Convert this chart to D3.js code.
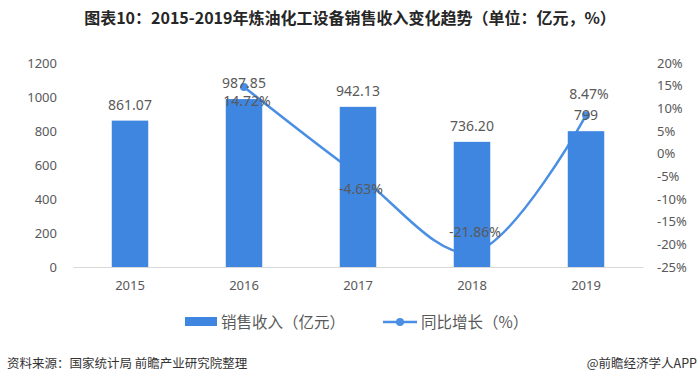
<!DOCTYPE html>
<html>
<head>
<meta charset="utf-8">
<script src="https://cdn.jsdelivr.net/npm/d3@7"></script>
<style>
  body { margin: 0; background: #fff; }
  text { font-family: "Noto Sans", "Noto Sans CJK SC", sans-serif; }
</style>
</head>
<body>
<div id="chart"></div>
<script>
// Data
const years = ["2015", "2016", "2017", "2018", "2019"];
const sales = [861.07, 987.85, 942.13, 736.20, 799];
const salesLabels = ["861.07", "987.85", "942.13", "736.20", "799"];
const growth = [null, 14.72, -4.63, -21.86, 8.47];
const leftTicks = [0, 200, 400, 600, 800, 1000, 1200];
const rightTicks = [-25, -20, -15, -10, -5, 0, 5, 10, 15, 20];

const width = 700, height = 384;
const barColor = "#3f86e0";
const lineColor = "#4a8fe3";
const textColor = "#595959";

const svg = d3.select("#chart").append("svg")
  .attr("width", width)
  .attr("height", height);

// Scales
const x = d3.scaleBand()
  .domain(years)
  .range([73, 643])
  .paddingInner(0.68)
  .paddingOuter(0.34);

const yLeft = d3.scaleLinear().domain([0, 1200]).range([267, 63]);
const yRight = d3.scaleLinear().domain([-25, 20]).range([267, 63]);

// Title
svg.append("text")
  .attr("x", 350)
  .attr("y", 24)
  .attr("text-anchor", "middle")
  .style("font-family", "'Noto Sans CJK SC', sans-serif")
  .style("font-weight", "bold")
  .style("font-size", "16px")
  .style("fill", "#262626")
  .text("图表10：2015-2019年炼油化工设备销售收入变化趋势（单位：亿元，%）");

// Left axis
const leftAxis = svg.append("g")
  .attr("transform", "translate(57,0)")
  .call(d3.axisLeft(yLeft).tickValues(leftTicks).tickSize(0).tickPadding(0)
    .tickFormat(d3.format("d")));
leftAxis.select(".domain").remove();
leftAxis.selectAll("text")
  .style("font-size", "13px")
  .style("fill", textColor);

// Right axis
const rightAxis = svg.append("g")
  .attr("transform", "translate(657,0)")
  .call(d3.axisRight(yRight).tickValues(rightTicks).tickSize(0).tickPadding(0)
    .tickFormat(d => d + "%"));
rightAxis.select(".domain").remove();
rightAxis.selectAll("text")
  .style("font-size", "13px")
  .style("fill", textColor);

// Bottom axis
const bottomAxis = svg.append("g")
  .attr("transform", "translate(0,267)")
  .call(d3.axisBottom(x).tickSize(0).tickPadding(14));
bottomAxis.select(".domain").attr("stroke", "#d9d9d9");
bottomAxis.selectAll("text")
  .style("font-size", "13px")
  .style("fill", textColor);

// Growth line (sits behind the bars, as in the source chart)
const linePts = growth.map((g, i) => ({ year: years[i], g: g }));
const line = d3.line()
  .defined(d => d.g !== null)
  .x(d => x(d.year) + x.bandwidth() / 2)
  .y(d => yRight(d.g))
  .curve(d3.curveCatmullRom.alpha(0.5));

svg.append("path")
  .datum(linePts)
  .attr("d", line)
  .attr("fill", "none")
  .attr("stroke", lineColor)
  .attr("stroke-width", 2.5);

svg.append("g").selectAll("circle")
  .data(linePts.filter(d => d.g !== null))
  .enter()
  .append("circle")
  .attr("cx", d => x(d.year) + x.bandwidth() / 2)
  .attr("cy", d => yRight(d.g))
  .attr("r", 4)
  .attr("fill", lineColor);

// Bars
svg.append("g").selectAll("rect")
  .data(sales)
  .enter()
  .append("rect")
  .attr("x", (d, i) => x(years[i]))
  .attr("y", d => yLeft(d))
  .attr("width", x.bandwidth())
  .attr("height", d => yLeft(0) - yLeft(d))
  .attr("fill", barColor);

// Bar labels
svg.append("g").selectAll("text")
  .data(sales)
  .enter()
  .append("text")
  .attr("x", (d, i) => x(years[i]) + x.bandwidth() / 2)
  .attr("y", d => yLeft(d) - 11)
  .attr("text-anchor", "middle")
  .style("font-size", "14px")
  .style("fill", textColor)
  .text((d, i) => salesLabels[i]);

// Growth labels: below for 2016/2017, above for 2018/2019
svg.append("g").selectAll("text")
  .data(linePts.filter(d => d.g !== null))
  .enter()
  .append("text")
  .attr("x", d => x(d.year) + x.bandwidth() / 2 + 3)
  .attr("y", d => yRight(d.g) + (d.year === "2016" || d.year === "2017" ? 19 : -16))
  .attr("text-anchor", "middle")
  .style("font-size", "14px")
  .style("fill", textColor)
  .text(d => d.g.toFixed(2) + "%");

// Legend
const legend = svg.append("g");
legend.append("rect")
  .attr("x", 185).attr("y", 317)
  .attr("width", 32).attr("height", 9)
  .attr("fill", barColor);
legend.append("text")
  .attr("x", 221).attr("y", 327.5)
  .style("font-family", "'Noto Sans CJK SC', sans-serif")
  .style("font-size", "15.5px")
  .style("fill", textColor)
  .text("销售收入（亿元）");
legend.append("line")
  .attr("x1", 383).attr("x2", 417)
  .attr("y1", 322).attr("y2", 322)
  .attr("stroke", lineColor)
  .attr("stroke-width", 2.5);
legend.append("circle")
  .attr("cx", 400).attr("cy", 322).attr("r", 4)
  .attr("fill", lineColor);
legend.append("text")
  .attr("x", 421).attr("y", 327.5)
  .style("font-family", "'Noto Sans CJK SC', sans-serif")
  .style("font-size", "15.5px")
  .style("fill", textColor)
  .text("同比增长（%）");

// Footer
svg.append("text")
  .attr("x", 7).attr("y", 368)
  .style("font-family", "'Noto Sans CJK SC', sans-serif")
  .style("font-size", "12.5px")
  .style("fill", "#333")
  .text("资料来源：国家统计局 前瞻产业研究院整理");
svg.append("text")
  .attr("x", 697).attr("y", 368)
  .attr("text-anchor", "end")
  .style("font-family", "'Noto Sans CJK SC', sans-serif")
  .style("font-size", "12.5px")
  .style("fill", "#333")
  .text("@前瞻经济学人APP");
</script>
</body>
</html>
